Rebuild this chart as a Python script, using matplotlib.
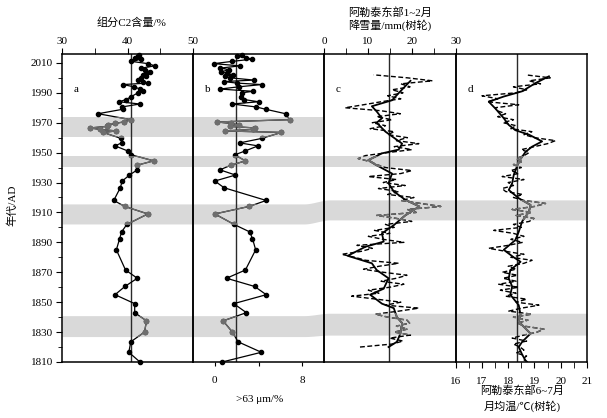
import numpy as np
import matplotlib.pyplot as plt
from matplotlib.patches import Rectangle
from matplotlib.ticker import MultipleLocator, FixedLocator

plt.rcParams['font.family'] = ['Liberation Serif', 'Noto Sans CJK SC']

# 样品年代 (a, b 共用)
years_ab = [1810, 1816.5, 1823.5, 1830, 1837.5, 1843, 1849, 1855, 1860.5, 1866,
            1871.5, 1885, 1892.5, 1897, 1902, 1909, 1914, 1918, 1926.5, 1931,
            1935, 1938.5, 1941.5, 1944.5, 1948.5, 1951, 1954.5, 1956.5, 1959.5,
            1963.5, 1964.5, 1965.5, 1966.5, 1967.5, 1968.5, 1969.5, 1970.5, 1972,
            1976, 1979, 1980.5, 1982.5, 1984, 1985.5, 1987.5, 1990, 1991, 1992.5,
            1994, 1995.5, 1996.5, 1997.5, 1998.5, 2000, 2001, 2002, 2003, 2004,
            2005.5, 2006.5, 2008, 2009.5, 2011, 2012.5, 2013.5, 2014.5, 2015]
# 组分C2含量/%
c2_content = [41.9, 40.2, 40.5, 42.6, 42.9, 41.1, 41.1, 38.1, 39.6, 41.5,
              39.7, 38.3, 38.8, 39.1, 39.9, 43.1, 39.6, 37.9, 38.9, 39.2,
              40.3, 41.5, 41.4, 44.0, 40.6, 40.1, 38.1, 39.1, 39.0,
              36.3, 38.3, 35.8, 34.3, 36.8, 37.0, 38.1, 39.4, 40.6,
              35.5, 39.3, 39.1, 41.9, 38.7, 39.8, 40.6, 41.6, 42.4, 41.9,
              41.0, 39.3, 43.1, 42.4, 41.6, 42.0, 42.9, 42.4, 42.8, 43.4,
              42.6, 42.1, 44.2, 43.1, 40.6, 42.1, 41.1, 41.6, 41.8]
# >63 μm/%
coarse_63 = [0.67, 4.26, 2.13, 1.61, 0.76, 2.89, 1.73, 4.71, 3.65, 1.07,
             2.80, 3.74, 3.45, 3.19, 1.76, 0.0, 3.13, 4.71, 0.85, 0.0,
             1.89, 0.46, 1.46, 2.80, 1.82, 2.74, 3.95, 2.28, 4.30,
             6.10, 0.90, 3.50, 3.65, 1.40, 2.20, 1.50, 0.20, 6.84,
             6.48, 4.65, 3.80, 1.60, 4.00, 2.67, 2.40, 2.50, 3.50, 0.46,
             2.20, 4.30, 2.00, 0.80, 3.60, 1.40, 0.90, 1.70, 1.10, 0.60,
             1.30, 0.50, 2.30, -0.10, 1.60, 3.40, 2.90, 2.00, 2.50]

# 阿勒泰东部1~2月降雪量 (树轮)
snow_years = [1820, 1822, 1824, 1826, 1828, 1830, 1832, 1834, 1836, 1838,
              1840, 1842, 1844, 1846, 1848, 1850, 1852, 1854, 1856, 1858,
              1860, 1862, 1864, 1866, 1868, 1870, 1872, 1874, 1876, 1878,
              1880, 1882, 1884, 1886, 1888, 1890, 1892, 1894, 1896, 1898,
              1900, 1902, 1904, 1906, 1908, 1910, 1912, 1914, 1916, 1918,
              1920, 1922, 1924, 1926, 1928, 1930, 1932, 1934, 1936, 1938,
              1940, 1942, 1944, 1946, 1948, 1950, 1952, 1954, 1956, 1958,
              1960, 1962, 1964, 1966, 1968, 1970, 1972, 1974, 1976, 1978,
              1980, 1982, 1984, 1986, 1988, 1990, 1992, 1994, 1996, 1998,
              2000, 2002]
snow_annual = [8.2, 15.5, 18.0, 15.0, 19.7, 16.0, 19.0, 16.5, 19.5, 18.9,
               14.5, 11.7, 17.0, 21.6, 14.0, 17.5, 12.0, 6.3, 12.5, 10.1,
               15.0, 18.2, 13.0, 16.5, 18.9, 13.5, 9.0, 12.5, 17.0, 9.5,
               7.0, 4.0, 8.5, 11.0, 7.5, 18.2, 13.5, 10.1, 15.0, 11.5,
               16.0, 14.0, 20.0, 16.5, 12.0, 21.0, 19.0, 26.6, 22.0, 17.5,
               20.5, 14.5, 17.0, 12.4, 18.5, 13.5, 16.5, 10.1, 17.5, 20.0,
               14.0, 12.0, 10.5, 7.8, 9.4, 14.5, 20.0, 16.0, 21.6, 16.5,
               19.0, 14.5, 16.0, 10.5, 14.0, 11.0, 15.5, 12.0, 17.4, 13.0,
               4.8, 9.0, 13.0, 17.5, 14.5, 18.0, 15.5, 19.6, 17.5, 24.7,
               19.0, 11.3]
snow_smooth_years = [1820, 1823.5, 1829, 1836, 1840, 1846, 1849, 1855, 1859, 1866,
                     1871.5, 1876, 1881, 1887, 1890.5, 1896, 1901.5, 1908, 1914,
                     1918.5, 1924, 1929.5, 1936, 1942, 1945, 1949.5, 1952, 1956,
                     1964, 1970, 1973, 1977.5, 1981, 1985, 1991, 1998]
snow_smooth = [14.7, 16.6, 17.4, 17.8, 16.6, 15.9, 13.2, 10.5, 13.6, 14.7,
               12.0, 10.9, 5.4, 9.4, 13.6, 13.2, 15.9, 18.5, 21.7,
               18.5, 15.9, 14.7, 15.5, 11.7, 10.1, 13.2, 17.0, 17.8,
               14.0, 12.0, 13.2, 12.0, 10.9, 15.5, 17.4, 19.7]

# 阿勒泰东部6~7月月均温 (树轮)
temp_years = [1810, 1812, 1814, 1816, 1818, 1820, 1822, 1824, 1826, 1828,
              1830, 1832, 1834, 1836, 1838, 1840, 1842, 1844, 1846, 1848,
              1850, 1852, 1854, 1856, 1858, 1860, 1862, 1864, 1866, 1868,
              1870, 1872, 1874, 1876, 1878, 1880, 1882, 1884, 1886, 1888,
              1890, 1892, 1894, 1896, 1898, 1900, 1902, 1904, 1906, 1908,
              1910, 1912, 1914, 1916, 1918, 1920, 1922, 1924, 1926, 1928,
              1930, 1932, 1934, 1936, 1938, 1940, 1942, 1944, 1946, 1948,
              1950, 1952, 1954, 1956, 1958, 1960, 1962, 1964, 1966, 1968,
              1970, 1972, 1974, 1976, 1978, 1980, 1982, 1984, 1986, 1988,
              1990, 1992, 1994, 1996, 1998, 2000, 2002]
temp_annual = [18.75, 18.55, 18.7, 18.3, 18.6, 18.45, 18.2, 18.7, 18.15, 18.6,
               19.1, 19.36, 18.6, 18.35, 18.75, 18.2, 18.9, 18.02, 18.5, 19.17,
               18.3, 18.7, 17.9, 18.3, 17.7, 18.4, 17.64, 18.3, 17.8, 18.35,
               17.77, 18.3, 18.0, 18.6, 18.91, 18.1, 18.6, 17.9, 17.26, 18.0,
               18.55, 18.1, 18.6, 18.2, 17.45, 18.5, 18.2, 18.8, 18.98, 18.3,
               18.9, 18.15, 19.0, 19.42, 18.6, 18.2, 18.55, 17.9, 17.77, 18.2,
               18.0, 18.6, 17.77, 18.4, 18.1, 18.5, 18.2, 18.55, 18.3, 18.6,
               18.8, 18.5, 19.0, 19.5, 19.8, 19.0, 18.6, 18.9, 18.1, 18.3,
               17.8, 18.2, 17.6, 17.9, 17.58, 17.5, 18.4, 17.2, 17.6, 17.0,
               18.3, 18.7, 18.2, 19.23, 18.8, 19.6, 18.66]
temp_smooth_years = [1811, 1815, 1820, 1823.5, 1829, 1837, 1841.5, 1848, 1855, 1860.5,
                     1866, 1871.5, 1877, 1880, 1885, 1891.5, 1897, 1904, 1910.5, 1915,
                     1919.5, 1925, 1929.5, 1935, 1944, 1950.5, 1954, 1957.5, 1962, 1965,
                     1968.5, 1973, 1979.5, 1984, 1987.5, 1991, 1996.5, 2001]
temp_smooth = [18.66, 18.53, 18.40, 18.53, 18.85, 18.40, 18.47, 18.40, 18.08, 18.15,
               18.02, 18.08, 18.47, 18.21, 17.83, 18.27, 18.40, 18.53, 18.79, 18.85,
               18.40, 18.02, 18.15, 18.21, 18.40, 18.66, 18.91, 19.29, 18.79, 18.27,
               18.02, 17.83, 17.51, 17.26, 17.83, 18.53, 19.04, 19.55]

# 灰色阴影带: a、b 一侧与 c、d 一侧
bands_ab = [(1960.3, 1974.1), (1940.4, 1947.8), (1902.3, 1915.7), (1827.0, 1841.0)]
bands_cd = [(1940.4, 1947.8), (1905.0, 1918.4), (1828.0, 1842.6)]
mean_lines = [40.6, 1.9, 14.8, 18.34]

W, H = 607, 418
TOP, BOT = 54.5, 362
YMIN, YMAX = 1810, 2015.6
BAND = '#d9d9d9'
GRAY = '#6e6e6e'
FS = 8


def px_rect(x0, x1):
    return [x0 / W, 1 - BOT / H, (x1 - x0) / W, (BOT - TOP) / H]


def fig_text(fig, x, y, s, **kw):
    fig.text(x / W, 1 - y / H, s, ha='center', va='center', fontsize=FS, **kw)


def smoothstep(x, x0, x1):
    t = np.clip((x - x0) / (x1 - x0), 0, 1)
    return t * t * (3 - 2 * t)


def draw_bands(fig):
    bg = fig.add_axes(px_rect(62, 587), zorder=0)
    bg.set_xlim(62, 587)
    bg.set_ylim(YMIN, YMAX)
    bg.axis('off')
    # 第一条只在 a、b 中
    y0, y1 = bands_ab[0]
    bg.fill_between([62, 324], y0, y1, color=BAND, lw=0)
    xs = np.linspace(62, 587, 400)
    for (l0, l1), (r0, r1) in zip(bands_ab[1:], bands_cd):
        s = smoothstep(xs, 304, 330)
        bg.fill_between(xs, l0 + (r0 - l0) * s, l1 + (r1 - l1) * s, color=BAND, lw=0)


def gray_overlay(ax, x, y, bands, **kw):
    x0, x1 = ax.get_xlim()
    for y0, y1 in bands:
        ln, = ax.plot(x, y, color=GRAY, **kw)
        ln.set_clip_path(Rectangle((x0, y0), x1 - x0, y1 - y0, transform=ax.transData))


def setup_panel(ax, xlim, letter):
    ax.set_facecolor('none')
    ax.set_xlim(*xlim)
    ax.set_ylim(YMIN, YMAX)
    for sp in ax.spines.values():
        sp.set_linewidth(1.1)
    ax.tick_params(axis='y', which='both', left=False, labelleft=False)
    ax.text(0.11, 0.885, letter, transform=ax.transAxes, fontsize=FS, ha='center', va='center')


def main():
    fig = plt.figure(figsize=(W / 100, H / 100), dpi=100)
    draw_bands(fig)

    ax_a = fig.add_axes(px_rect(62, 193), zorder=2)
    ax_b = fig.add_axes(px_rect(193, 324), zorder=2)
    ax_c = fig.add_axes(px_rect(324, 455.7), zorder=2)
    ax_d = fig.add_axes(px_rect(455.7, 587), zorder=2)
    setup_panel(ax_a, (30, 50), 'a')
    setup_panel(ax_b, (-2.0, 10.0), 'b')
    setup_panel(ax_c, (0, 30), 'c')
    setup_panel(ax_d, (16, 21), 'd')

    # y 轴
    ax_a.tick_params(axis='y', which='both', left=True, labelleft=True, direction='out',
                     labelsize=FS, pad=2.5)
    ax_a.tick_params(axis='y', which='major', length=4)
    ax_a.tick_params(axis='y', which='minor', length=3)
    ax_a.yaxis.set_major_locator(MultipleLocator(20))
    ax_a.yaxis.set_minor_locator(MultipleLocator(10))
    ax_a.set_yticks(range(1810, 2011, 20))

    # a: 顶部坐标
    ax_a.xaxis.tick_top()
    ax_a.xaxis.set_major_locator(FixedLocator([30, 40, 50]))
    ax_a.xaxis.set_minor_locator(FixedLocator([35, 45]))
    ax_a.tick_params(axis='x', which='both', direction='out', labelsize=FS, pad=2)
    ax_a.tick_params(axis='x', which='major', length=4)
    ax_a.tick_params(axis='x', which='minor', length=4)

    # b: 底部坐标
    ax_b.set_xticks([0, 4, 8])
    ax_b.set_xticklabels(['0', '', '8'])
    ax_b.tick_params(axis='x', direction='out', length=3, labelsize=FS, pad=7)

    # c: 顶部坐标
    ax_c.xaxis.tick_top()
    ax_c.set_xticks([0, 10, 20, 30])
    ax_c.xaxis.set_minor_locator(FixedLocator([5, 15, 25]))
    ax_c.tick_params(axis='x', which='both', direction='out', length=4, labelsize=FS, pad=2)

    # d: 底部坐标
    ax_d.set_xticks(range(16, 22))
    ax_d.xaxis.set_minor_locator(MultipleLocator(0.5))
    ax_d.tick_params(axis='x', which='both', direction='out', length=4, labelsize=FS, pad=7)

    for ax, m in zip([ax_a, ax_b, ax_c, ax_d], mean_lines):
        ax.axvline(m, color='#2a2a2a', lw=1.0, zorder=1)

    # a, b 样品点
    for ax, vals in [(ax_a, c2_content), (ax_b, coarse_63)]:
        ax.plot(vals, years_ab, color='black', lw=0.9, marker='o', ms=3.0, zorder=3,
                clip_on=False)
        gray_overlay(ax, vals, years_ab, bands_ab, lw=0.9, marker='o', ms=3.0, zorder=4)

    # c, d 树轮序列
    dash = (0, (3.5, 1.8))
    for ax, yrs, ann, syrs, sm in [(ax_c, snow_years, snow_annual, snow_smooth_years, snow_smooth),
                                   (ax_d, temp_years, temp_annual, temp_smooth_years, temp_smooth)]:
        ax.plot(ann, yrs, color='black', lw=1.0, ls=dash, zorder=3)
        ax.plot(sm, syrs, color='black', lw=1.3, zorder=3)
        gray_overlay(ax, ann, yrs, bands_cd, lw=1.0, ls=dash, zorder=4)
        gray_overlay(ax, sm, syrs, bands_cd, lw=1.3, zorder=4)

    fig_text(fig, 131, 23, '组分C2含量/%')
    fig_text(fig, 390, 12.5, '阿勒泰东部1~2月')
    fig_text(fig, 390, 25.5, '降雪量/mm(树轮)')
    fig_text(fig, 260, 399, '>63 μm/%')
    fig_text(fig, 522, 391, '阿勒泰东部6~7月')
    fig_text(fig, 522, 406, '月均温/℃(树轮)')
    fig_text(fig, 12, 205, '年代/AD', rotation=90)

    fig.savefig('out.png', dpi=100)


if __name__ == '__main__':
    main()
